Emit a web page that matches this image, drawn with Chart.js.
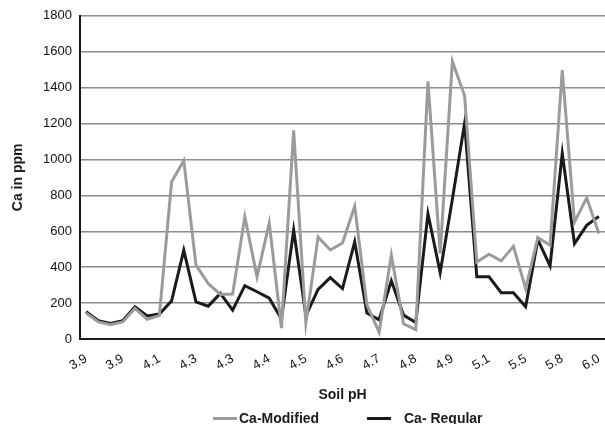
<!DOCTYPE html>
<html>
<head>
<meta charset="utf-8">
<script src="https://cdn.jsdelivr.net/npm/chart.js@4/dist/chart.umd.min.js"></script>
<style>
  html, body { margin: 0; padding: 0; background: #fff; }
  #wrap { position: relative; width: 605px; height: 424px; overflow: hidden; }
  #c { position: absolute; left: 0; top: 0; }
  .legend-item { position: absolute; top: 410px; height: 16px; white-space: nowrap;
                 font: bold 14px 'Liberation Sans', Arial, sans-serif; color: #1a1a1a; line-height: 16px; }
  .legend-item i { display: inline-block; width: 24px; height: 3px; vertical-align: middle; margin-top: -2px; }
</style>
</head>
<body>
<div id="wrap"><canvas id="c" width="605" height="424"></canvas></div>
<script>
// soil pH of each sample (only every 3rd one is labelled on the axis)
var soilPh = [3.9, 3.9, 3.9, 3.9, 4.0, 4.0, 4.1, 4.2, 4.2, 4.3, 4.3, 4.3, 4.3, 4.3, 4.4,
              4.4, 4.4, 4.5, 4.5, 4.5, 4.6, 4.6, 4.6, 4.7, 4.7, 4.7, 4.8, 4.8, 4.8, 4.9,
              4.9, 5.0, 5.0, 5.1, 5.2, 5.3, 5.5, 5.6, 5.7, 5.8, 5.9, 6.0, 6.0];

var caModified = [145, 95, 80, 95, 170, 110, 130, 874, 994, 411, 309, 248, 250, 680, 346,
                  647, 61, 1162, 89, 568, 496, 535, 739, 190, 37, 468, 85, 52, 1435, 477,
                  1546, 1355, 429, 472, 435, 516, 281, 564, 522, 1497, 651, 786, 587];

var caRegular = [152, 102, 87, 102, 180, 128, 139, 211, 494, 207, 183, 254, 161, 297, 263,
                 227, 111, 607, 129, 276, 342, 281, 541, 144, 107, 324, 133, 92, 698, 370,
                 779, 1201, 346, 346, 258, 258, 180, 553, 407, 1034, 531, 633, 683];

var yTicks = [0, 200, 400, 600, 800, 1000, 1200, 1400, 1600, 1800];
var labelEvery = 3;

var FONT = "'Liberation Sans', Arial, sans-serif";

var chart = new Chart(document.getElementById('c'), {
  type: 'line',
  data: {
    labels: soilPh.map(function(v){ return v.toFixed(1); }),
    datasets: [
      {
        label: 'Ca-Modified',
        data: caModified,
        borderColor: '#9b9b9b',
        borderWidth: 3,
        pointRadius: 0,
        tension: 0
      },
      {
        label: 'Ca- Regular',
        data: caRegular,
        borderColor: '#1a1a1a',
        borderWidth: 3,
        pointRadius: 0,
        tension: 0
      }
    ]
  },
  options: {
    responsive: false,
    animation: false,
    layout: { padding: { left: 0, right: 0, top: 15, bottom: 20 } },
    plugins: {
      tooltip: { enabled: false },
      legend: { display: false }
    },
    scales: {
      x: {
        offset: true,
        afterFit: function(scale){
          scale.height = 65;
          // plot runs to the right edge of the picture
          scale.paddingLeft = 0;
          scale.paddingRight = 0;
        },
        grid: { display: false, drawTicks: false },
        border: { display: true, color: '#1a1a1a', width: 2 },
        ticks: {
          autoSkip: false,
          minRotation: 30,
          maxRotation: 30,
          padding: 12,
          color: '#111',
          font: { family: FONT, size: 13 },
          callback: function(v, i){
            return i % labelEvery === 0 ? this.getLabelForValue(v) : null;
          }
        },
        title: {
          display: true,
          text: 'Soil pH',
          color: '#1a1a1a',
          font: { family: FONT, size: 14, weight: 'bold' },
          padding: { top: 0, bottom: 0 }
        }
      },
      y: {
        min: 0,
        max: 1800,
        afterBuildTicks: function(scale){
          scale.ticks = yTicks.map(function(v){ return { value: v }; });
        },
        afterFit: function(scale){ scale.width = 80; },
        grid: { color: '#8c8c8c', lineWidth: 1.5, drawTicks: false },
        border: { display: true, color: '#1a1a1a', width: 2 },
        ticks: {
          padding: 8,
          color: '#111',
          font: { family: FONT, size: 13 },
          callback: function(v){ return String(v); }
        },
        title: {
          display: true,
          text: 'Ca in ppm',
          color: '#1a1a1a',
          font: { family: FONT, size: 14, weight: 'bold' },
          padding: { top: 10, bottom: 4 }
        }
      }
    }
  }
});

// legend under the axis title, built from the datasets
var legendX = [213, 367];
chart.data.datasets.forEach(function(ds, i){
  var item = document.createElement('div');
  item.className = 'legend-item';
  item.style.left = legendX[i] + 'px';
  item.innerHTML = '<i style="background:' + ds.borderColor + ';margin-right:' + (i === 0 ? 2 : 13) + 'px"></i>' + ds.label;
  document.getElementById('wrap').appendChild(item);
});
</script>
</body>
</html>
